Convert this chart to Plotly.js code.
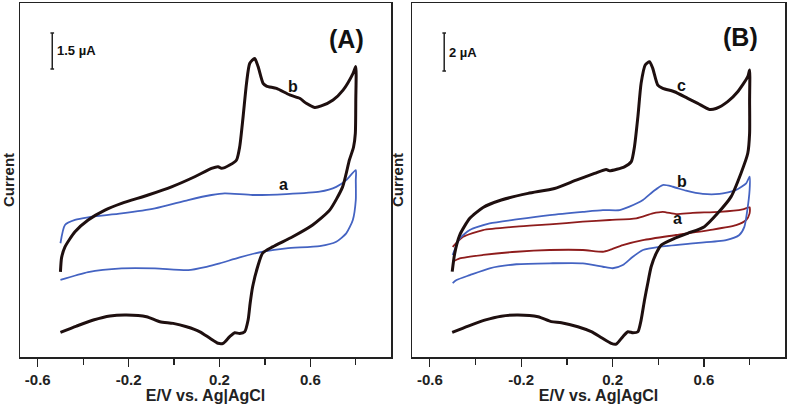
<!DOCTYPE html>
<html>
<head>
<meta charset="utf-8">
<script src="https://cdn.plot.ly/plotly-3.0.1.min.js"></script>
<style>html,body{margin:0;padding:0;background:#fff;}#chart{width:787px;height:408px;}</style>
</head>
<body>
<div id="chart"></div>
<script>
// Panel A (current in µA, arbitrary zero)
const A_b_E = [-0.50,-0.495,-0.48,-0.436,-0.378,-0.304,-0.231,-0.114,-0.011,0.091,0.165,0.194,0.209,0.245,0.275,0.289,0.304,0.319,0.333,0.355,0.370,0.392,0.407,0.451,0.509,0.553,0.582,0.619,0.648,0.700,0.744,0.788,0.80,
  0.80,0.798,0.79,0.772,0.742,0.685,0.61,0.522,0.434,0.39,0.368,0.346,0.335,0.326,0.311,0.289,0.267,0.245,0.216,0.194,0.158,0.114,0.055,-0.004,-0.062,-0.121,-0.209,-0.282,-0.355,-0.429,-0.50];
const A_b_I = [-2.99,-2.4,-1.95,-1.32,-0.83,-0.42,-0.14,0.21,0.55,0.97,1.32,1.39,1.32,1.46,1.67,2.22,3.47,4.86,5.69,5.90,5.56,4.86,4.75,4.65,4.38,4.24,4.03,3.86,3.92,4.17,4.58,5.28,5.56,
  4.17,2.78,2.2,1.67,0.55,-0.42,-1.04,-1.53,-1.95,-2.21,-2.78,-3.61,-4.3,-5.0,-5.49,-5.56,-5.53,-5.69,-5.97,-5.97,-5.76,-5.49,-5.28,-5.14,-5.07,-4.86,-4.79,-4.83,-5.0,-5.25,-5.51];
const A_a_E = [-0.50,-0.48,-0.436,-0.378,-0.231,-0.084,0.062,0.165,0.223,0.346,0.494,0.641,0.714,0.758,0.80,
  0.80,0.80,0.787,0.758,0.714,0.641,0.494,0.392,0.289,0.201,0.143,0.062,-0.084,-0.231,-0.378,-0.50];
const A_a_I = [-1.80,-1.04,-0.83,-0.72,-0.56,-0.35,0.0,0.21,0.28,0.21,0.25,0.35,0.55,0.83,1.25,
  0.83,0.0,-0.83,-1.39,-1.74,-1.92,-2.01,-2.15,-2.39,-2.64,-2.78,-2.92,-2.85,-2.85,-3.0,-3.33];

// Panel B
const B_c_E = [-0.502,-0.491,-0.469,-0.425,-0.367,-0.287,-0.170,-0.054,0.041,0.121,0.172,0.187,0.252,0.282,0.296,0.311,0.325,0.343,0.362,0.376,0.398,0.420,0.471,0.529,0.573,0.624,0.653,0.704,0.748,0.792,0.80,
  0.80,0.80,0.792,0.762,0.719,0.660,0.602,0.529,0.471,0.413,0.391,0.369,0.354,0.340,0.325,0.311,0.289,0.267,0.245,0.216,0.194,0.150,0.107,0.048,-0.024,-0.068,-0.126,-0.214,-0.287,-0.360,-0.432,-0.502];
const B_c_I = [-3.77,-2.81,-1.84,-0.96,-0.39,0.0,0.35,0.61,1.05,1.40,1.61,1.54,1.75,2.02,2.81,4.39,6.14,7.11,7.28,6.93,6.05,5.88,5.70,5.35,5.09,4.77,4.82,5.18,5.70,6.49,6.84,
  5.26,3.51,2.46,1.40,0.18,-0.70,-1.40,-1.75,-2.02,-2.37,-2.81,-3.51,-4.39,-5.26,-6.32,-6.93,-6.98,-6.93,-7.19,-7.58,-7.54,-7.23,-6.93,-6.67,-6.46,-6.40,-6.14,-6.05,-6.11,-6.32,-6.63,-6.96];
const B_b_E = [-0.50,-0.469,-0.425,-0.338,-0.221,-0.075,0.070,0.158,0.231,0.274,0.333,0.376,0.420,0.464,0.522,0.595,0.668,0.741,0.785,0.80,
  0.80,0.79,0.777,0.755,0.697,0.551,0.405,0.333,0.289,0.245,0.201,0.158,0.070,-0.075,-0.221,-0.338,-0.425,-0.483,-0.50];
const B_b_I = [-2.89,-2.02,-1.58,-1.23,-1.02,-0.79,-0.62,-0.53,-0.53,-0.35,0.0,0.44,0.79,0.70,0.49,0.32,0.32,0.53,0.88,1.23,
  0.53,-0.53,-1.41,-1.84,-2.11,-2.28,-2.46,-2.63,-2.98,-3.42,-3.59,-3.51,-3.33,-3.33,-3.38,-3.59,-3.95,-4.21,-4.37];
const B_a_E = [-0.50,-0.454,-0.367,-0.221,-0.075,0.070,0.187,0.304,0.376,0.420,0.478,0.551,0.668,0.770,0.80,
  0.80,0.785,0.741,0.624,0.478,0.333,0.245,0.187,0.158,0.070,-0.075,-0.221,-0.367,-0.469,-0.50];
const B_a_I = [-2.46,-1.93,-1.58,-1.40,-1.28,-1.14,-1.05,-0.96,-0.70,-0.62,-0.74,-0.67,-0.62,-0.49,-0.38,
  -0.70,-1.05,-1.32,-1.58,-1.84,-2.11,-2.37,-2.63,-2.72,-2.63,-2.63,-2.72,-2.89,-3.07,-3.25];

const tickVals = [-0.6,-0.2,0.2,0.6];
const tickText = ['-0.6','-0.2','0.2','0.6'];
const scaleA = {value:1.5, top:6.96, label:'1.5 µA'};
const scaleB = {value:2, top:8.79, label:'2 µA'};

const BLACK = '#1e0f0f', BLUE = '#4463c2', RED = '#8e1c1c';
const FONT = 'Arial, "Liberation Sans", sans-serif';

function tr(x, y, color, w, xa, ya) {
  return {x:x, y:y, type:'scatter', mode:'lines', xaxis:xa, yaxis:ya,
    line:{color:color, width:w, shape:'spline', smoothing:0.6}, hoverinfo:'skip', showlegend:false};
}
const data = [
  tr(A_a_E, A_a_I, BLUE, 1.8, 'x', 'y'),
  tr(A_b_E, A_b_I, BLACK, 3, 'x', 'y'),
  tr(B_a_E, B_a_I, RED, 1.8, 'x2', 'y2'),
  tr(B_b_E, B_b_I, BLUE, 1.8, 'x2', 'y2'),
  tr(B_c_E, B_c_I, BLACK, 3, 'x2', 'y2')
];

function xax(domain, anchor) {
  return {domain:domain, anchor:anchor, range:[-0.678,0.955], showline:true, mirror:true, linecolor:'#222', linewidth:1.5,
    ticks:'outside', ticklen:8, tickwidth:1.3, tickcolor:'#222', tickvals:tickVals, ticktext:tickText,
    minor:{tickvals:[-0.4,0,0.4,0.8], ticks:'outside', ticklen:6, tickwidth:1.3, tickcolor:'#222'},
    tickfont:{family:FONT, size:15, color:'#222', weight:'bold'}, showgrid:false, zeroline:false,
    title:{text:'<b>E/V vs. Ag|AgCl</b>', font:{family:FONT, size:16, color:'#222'}, standoff:2}};
}
function yax(domain, anchor, range) {
  return {domain:domain, anchor:anchor, range:range, showline:true, mirror:true, linecolor:'#222', linewidth:1.5,
    ticks:'', showticklabels:false, showgrid:false, zeroline:false,
    title:{text:'<b>Current</b>', font:{family:FONT, size:15, color:'#222'}, standoff:3}};
}
function bar(xa, ya, xpos, sc) {
  const c = 0.008;
  return [
    {type:'line', xref:xa, yref:ya, x0:xpos, x1:xpos, y0:sc.top, y1:sc.top - sc.value, line:{color:'#222', width:1.5}},
    {type:'line', xref:xa, yref:ya, x0:xpos-c, x1:xpos+c, y0:sc.top, y1:sc.top, line:{color:'#222', width:1.5}},
    {type:'line', xref:xa, yref:ya, x0:xpos-c, x1:xpos+c, y0:sc.top-sc.value, y1:sc.top-sc.value, line:{color:'#222', width:1.5}}
  ];
}
function lab(text, xa, ya, x, y, size) {
  return {text:'<b>'+text+'</b>', xref:xa, yref:ya, x:x, y:y, showarrow:false, font:{family:FONT, size:size, color:'#111'}};
}

const layout = {
  width:787, height:408, margin:{l:0, r:0, t:0, b:0}, paper_bgcolor:'#fff', plot_bgcolor:'#fff',
  xaxis: xax([20/787, 391/787], 'y'),
  yaxis: yax([51/408, 405/408], 'x', [-6.54, 8.21]),
  xaxis2: xax([412/787, 785/787], 'y2'),
  yaxis2: yax([51/408, 405/408], 'x2', [-8.26, 10.37]),
  shapes: [].concat(bar('x','y',-0.536,scaleA), bar('x2','y2',-0.537,scaleB)),
  annotations: [
    {text:'<b>'+scaleA.label+'</b>', xref:'x', yref:'y', x:-0.525, y:scaleA.top - scaleA.value/2, xanchor:'left', showarrow:false, font:{family:FONT, size:13, color:'#111'}},
    {text:'<b>'+scaleB.label+'</b>', xref:'x2', yref:'y2', x:-0.525, y:scaleB.top - scaleB.value/2, xanchor:'left', showarrow:false, font:{family:FONT, size:13, color:'#111'}},
    lab('(A)', 'x', 'y', 0.76, 6.7, 25),
    lab('(B)', 'x2', 'y2', 0.76, 8.6, 25),
    lab('b', 'x', 'y', 0.524, 4.72, 16),
    lab('a', 'x', 'y', 0.483, 0.65, 16),
    lab('c', 'x2', 'y2', 0.503, 6.05, 16),
    lab('b', 'x2', 'y2', 0.503, 0.96, 16),
    lab('a', 'x2', 'y2', 0.486, -0.96, 16)
  ]
};
Plotly.newPlot('chart', data, layout, {staticPlot:true, displayModeBar:false});
</script>
</body>
</html>
